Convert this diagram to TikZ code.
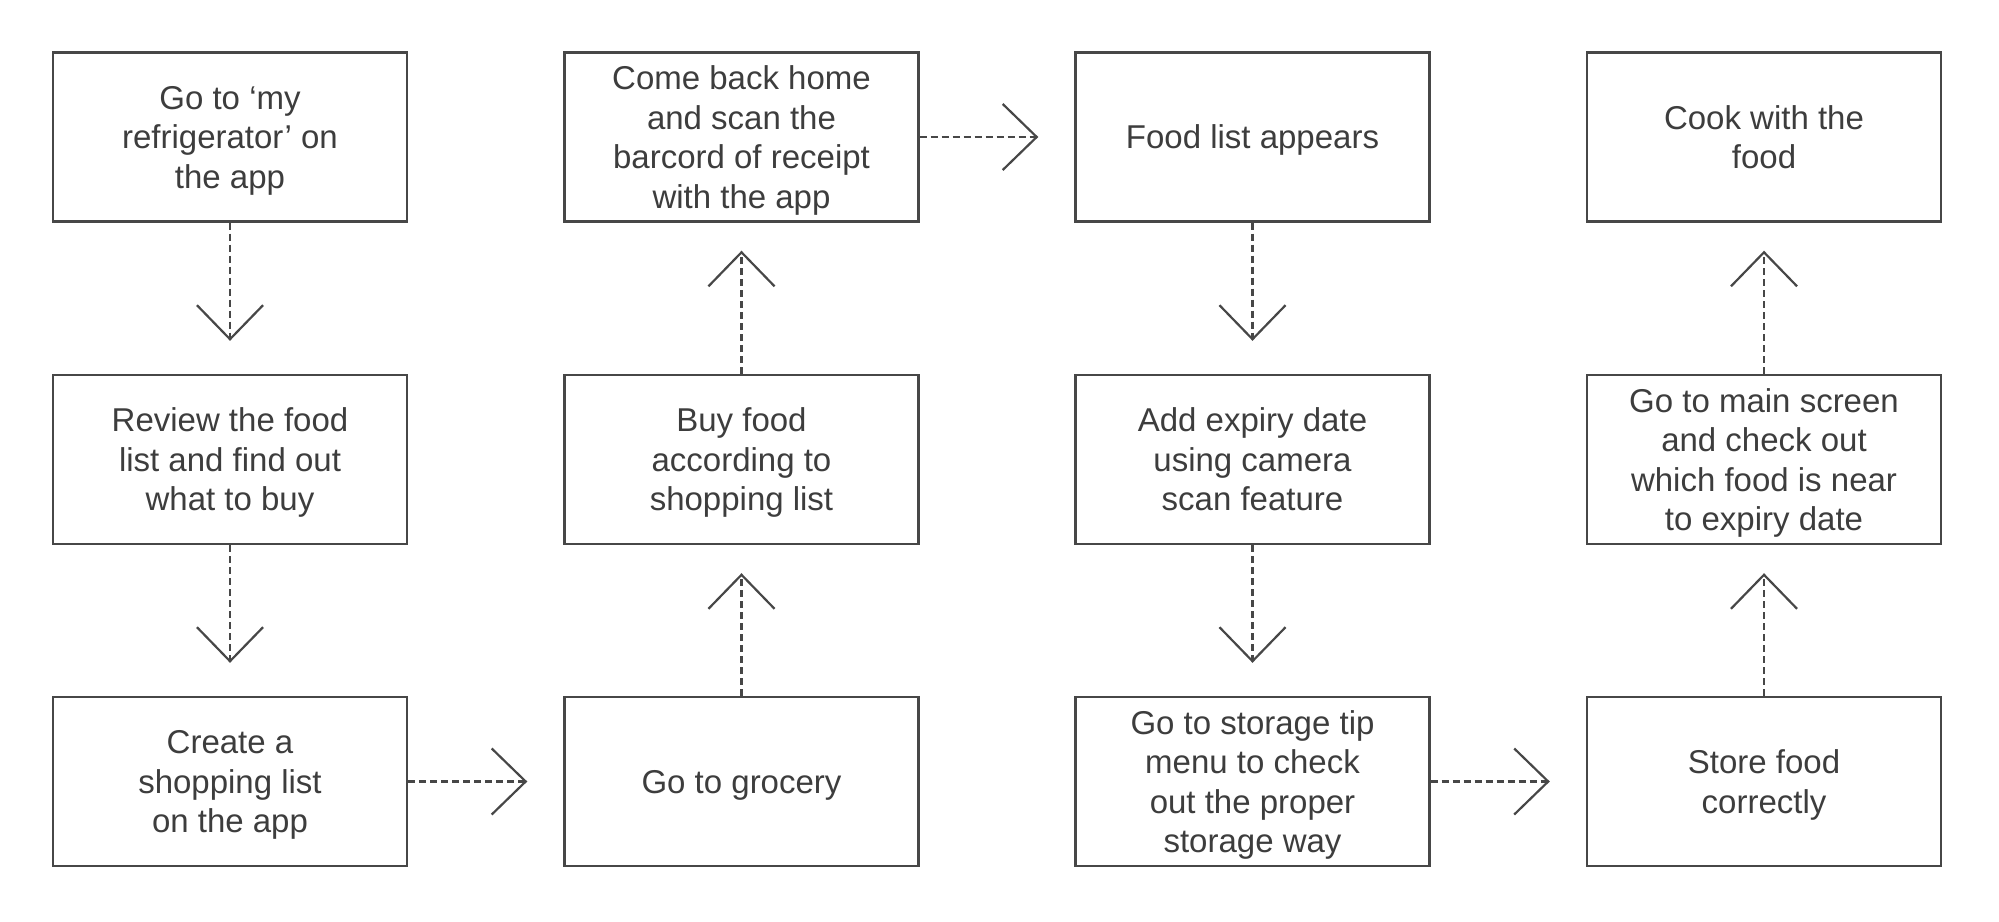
\documentclass[tikz,border=0pt]{standalone}
\usepackage{fontspec}
\setmainfont{Liberation Sans}
\usetikzlibrary{arrows.meta, positioning}
\definecolor{boxgray}{HTML}{474747}
\definecolor{textgray}{HTML}{3D3D3D}

\begin{document}
\begin{tikzpicture}[x=1pt, y=-1pt,
    every node/.style={font=\fontsize{33}{39.5}\selectfont, text=textgray},
    stepbox/.style={draw=boxgray, line width=2.4pt, minimum width=354pt, minimum height=169pt, align=center, inner sep=0pt, text depth=0pt},
    flow/.style={draw=boxgray, line width=2.2pt, dash pattern=on 7pt off 4pt, -{Straight Barb[length=34pt, width=66pt]}}]
    \useasboundingbox (0, 0) rectangle (1999, 921);

    % Column 1
    \node[stepbox] (fridge) at (230, 137) {Go to ‘my\\refrigerator’ on\\the app};
    \node[stepbox] (review) at (230, 459.5) {Review the food\\list and find out\\what to buy};
    \node[stepbox] (create) at (230, 781.5) {Create a\\shopping list\\on the app};

    % Column 2
    \node[stepbox] (grocery) at (741.5, 781.5) {Go to grocery};
    \node[stepbox] (buy) at (741.5, 459.5) {Buy food\\according to\\shopping list};
    \node[stepbox] (scan) at (741.5, 137) {Come back home\\and scan the\\barcord of receipt\\with the app};

    % Column 3
    \node[stepbox] (foodlist) at (1252.5, 137) {Food list appears};
    \node[stepbox] (expiry) at (1252.5, 459.5) {Add expiry date\\using camera\\scan feature};
    \node[stepbox] (storage) at (1252.5, 781.5) {Go to storage tip\\menu to check\\out the proper\\storage way};

    % Column 4
    \node[stepbox] (store) at (1764, 781.5) {Store food\\correctly};
    \node[stepbox] (mainscreen) at (1764, 459.5) {Go to main screen\\and check out\\which food is near\\to expiry date};
    \node[stepbox] (cook) at (1764, 137) {Cook with the\\food};

    % Flow
    \draw[flow, shorten >=33pt] (fridge) -- (review);
    \draw[flow, shorten >=33pt] (review) -- (create);
    \draw[flow, shorten >=36pt] (create) -- (grocery);
    \draw[flow, shorten >=28pt] (grocery) -- (buy);
    \draw[flow, shorten >=28pt] (buy) -- (scan);
    \draw[flow, shorten >=36pt] (scan) -- (foodlist);
    \draw[flow, shorten >=33pt] (foodlist) -- (expiry);
    \draw[flow, shorten >=33pt] (expiry) -- (storage);
    \draw[flow, shorten >=36pt] (storage) -- (store);
    \draw[flow, shorten >=28pt] (store) -- (mainscreen);
    \draw[flow, shorten >=28pt] (mainscreen) -- (cook);
\end{tikzpicture}
\end{document}
